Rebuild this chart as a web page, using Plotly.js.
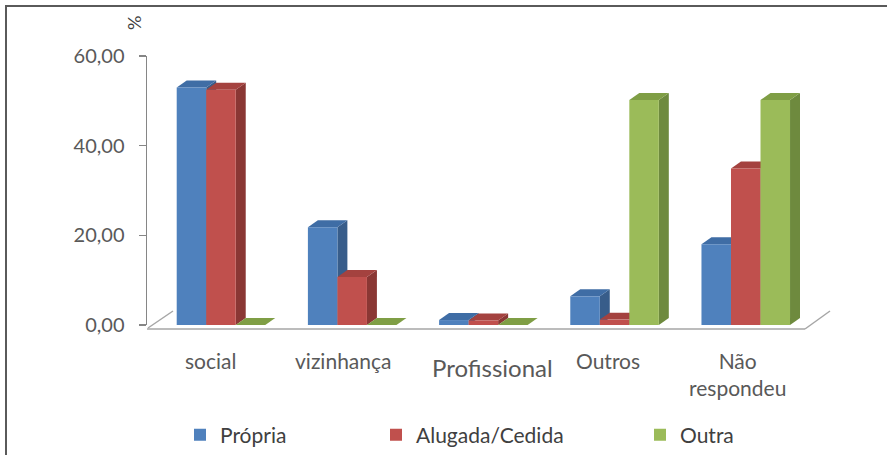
<!DOCTYPE html>
<html>
<head>
<meta charset="utf-8">
<script src="https://cdn.plot.ly/plotly-3.0.1.min.js"></script>
<style>html,body{margin:0;padding:0;background:#fff;}#chart{width:887px;height:455px;}</style>
</head>
<body>
<div id="chart"></div>
<script>
// ---- data ----
const categories = ['social', 'vizinhança', 'Profissional', 'Outros', 'Não respondeu'];
const seriesNames = ['Própria', 'Alugada/Cedida', 'Outra'];
const propria = [53.0, 21.8, 1.1, 6.4, 18.0];
const alugada = [52.5, 10.7, 1.0, 1.2, 34.9];
const outra = [0, 0, 0, 50.2, 50.2];
const yTicks = [0, 20, 40, 60];

// ---- styling ----
const frontColors = ['#4F81BD', '#C0504D', '#9BBB59'];
const topColors = ['#3F6DA5', '#A4423F', '#7F9E45'];
const sideColors = ['#385D8A', '#8A3734', '#6E8A3E'];
const series = [propria, alugada, outra];
const xIdx = categories.map((c, i) => i);

const L = 147, R = 812, T = 56, B = 325;
const px2x = p => (p - L) / (R - L);
const py2y = p => (B - p) / (B - T);

const w = 0.225;            // bar width (category units)
const dx = 0.076, dy = 1.56; // 3D depth offsets

const legendNames = ['legend', 'legend2', 'legend3'];
const traces = series.map((vals, k) => ({
  type: 'bar',
  name: seriesNames[k],
  x: xIdx,
  y: vals,
  width: w,
  offset: (-1.5 + k) * w,
  marker: {color: frontColors[k], line: {width: 0}},
  legend: legendNames[k],
  hoverinfo: 'y+name'
}));

const shapes = [];
xIdx.forEach(i => {
  series.forEach((vals, k) => {
    const v = vals[i];
    const xl = i + (-1.5 + k) * w, xr = xl + w;
    shapes.push({type: 'path', xref: 'x', yref: 'y', layer: 'below', line: {width: 0},
      fillcolor: sideColors[k],
      path: `M${xr},0 L${xr},${v} L${xr + dx},${v + dy} L${xr + dx},${dy} Z`});
    shapes.push({type: 'path', xref: 'x', yref: 'y', layer: 'below', line: {width: 0},
      fillcolor: topColors[k],
      path: `M${xl},${v} L${xr},${v} L${xr + dx},${v + dy} L${xl + dx},${v + dy} Z`});
  });
});

// floor edges and frame
const lineShape = (x0, y0, x1, y1, color, width) => ({type: 'line', xref: 'paper', yref: 'paper',
  x0: px2x(x0), y0: py2y(y0), x1: px2x(x1), y1: py2y(y1), line: {color: color, width: width}});
shapes.push(lineShape(148, 328, 173, 311, '#A6A6A6', 1.5));
shapes.push(lineShape(147, 329, 805, 329, '#A6A6A6', 1.5));
shapes.push(lineShape(805, 329, 830, 311, '#A6A6A6', 1.5));
shapes.push(lineShape(6, 5, 6, 456, '#5A5A5A', 2));
shapes.push(lineShape(5, 6, 888, 6, '#5A5A5A', 2));

const labelShift = [-10, -9, 9, -7, -8];
const labelY = [360, 360, 367, 360, 374];
const labelSize = [21, 21, 24, 21, 21];
const annotations = categories.map((c, i) => ({
  x: i, xref: 'x', y: py2y(labelY[i]), yref: 'paper',
  text: c.replace(' ', '<br>'), showarrow: false, xshift: labelShift[i],
  xanchor: 'center', yanchor: 'middle', align: 'center',
  font: {family: 'Lato, sans-serif', size: labelSize[i], color: '#595959'}
}));
annotations.push({x: px2x(134), xref: 'paper', y: py2y(23), yref: 'paper', text: '%',
  xanchor: 'center', yanchor: 'middle',
  showarrow: false, textangle: -90, font: {family: 'Lato, sans-serif', size: 18, color: '#404040'}});

const legendX = [180, 376, 640];
const legendBase = {orientation: 'h', yref: 'paper', y: py2y(435), yanchor: 'middle', xanchor: 'left',
  bgcolor: 'rgba(0,0,0,0)', borderwidth: 0,
  font: {family: 'Lato, sans-serif', size: 21, color: '#404040'}};

const layout = {
  width: 887, height: 455,
  margin: {l: L, r: 887 - R, t: T, b: 455 - B, pad: 0, autoexpand: false},
  paper_bgcolor: '#ffffff', plot_bgcolor: 'rgba(0,0,0,0)',
  separators: ',.',
  barmode: 'overlay',
  showlegend: true,
  legend: Object.assign({}, legendBase, {x: px2x(legendX[0])}),
  legend2: Object.assign({}, legendBase, {x: px2x(legendX[1])}),
  legend3: Object.assign({}, legendBase, {x: px2x(legendX[2])}),
  xaxis: {range: [-0.564, 4.505], showticklabels: false, showgrid: false, zeroline: false,
    showline: false, ticks: '', fixedrange: true},
  yaxis: {range: [0, 60], tickvals: yTicks, tickformat: '.2f', showgrid: false, zeroline: false,
    showline: true, linecolor: '#868686', linewidth: 1.5, ticks: 'outside', ticklen: 7,
    tickcolor: '#868686', tickwidth: 1.5, ticklabelstandoff: 10,
    tickfont: {family: 'Lato, sans-serif', size: 20, color: '#595959'}, fixedrange: true},
  shapes: shapes,
  annotations: annotations
};

Plotly.newPlot('chart', traces, layout, {displayModeBar: false, staticPlot: true});
</script>
</body>
</html>
